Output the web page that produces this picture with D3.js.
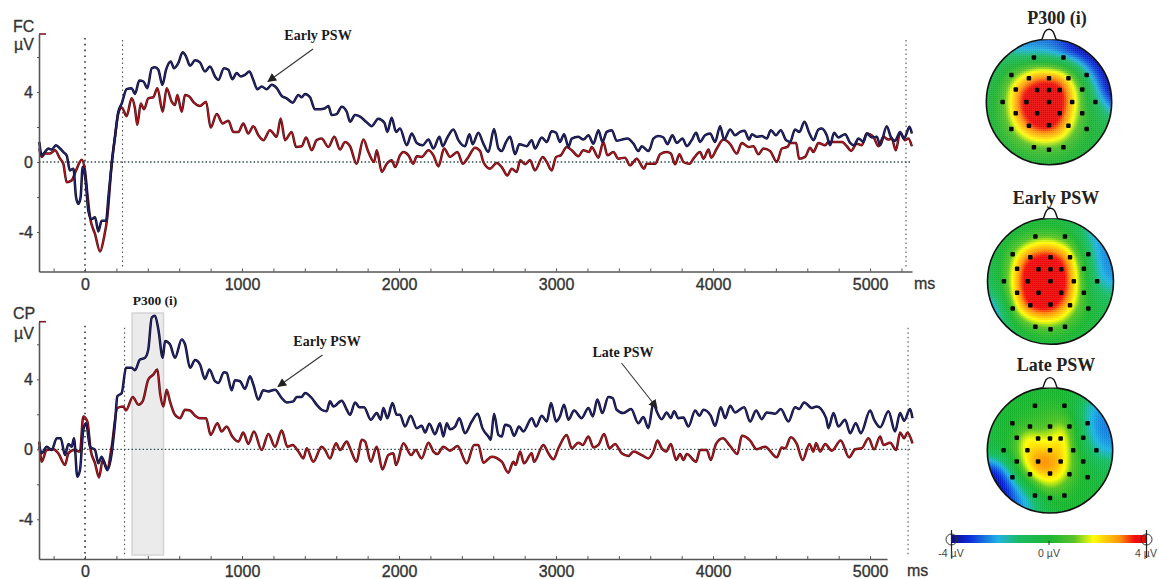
<!DOCTYPE html>
<html><head><meta charset="utf-8">
<script src="https://cdnjs.cloudflare.com/ajax/libs/d3/7.8.5/d3.min.js"></script>
<style>html,body{margin:0;padding:0;background:#fff}svg{display:block}</style>
</head><body><div id="chart"></div>
<script>
// [time in ms, amplitude in µV]
const fcNavy=[[-291,1.15],[-276,.38],[-255,.57],[-234,.77],[-212,.71],[-185,.96],[-159,.77],[-138,.57],[-117,.38],[-96,-.48],[-74,-.38],[-57,-2.01],[-42,-2.39],[-28,-2.01],[-15,-.29],[-6,-.48],[6,-1.25],[21,-2.78],[42,-3.26],[64,-3.16],[85,-3.97],[106,-3.35],[134,-3.35],[149,-2.01],[170,-.1],[191,1.44],[212,2.87],[234,3.35],[265,4.16],[297,4.22],[318,3.89],[346,4.66],[372,4.6],[397,4.22],[425,5.36],[446,5.42],[467,5.27],[493,4.41],[516,5.27],[546,5.75],[567,5.36],[594,5.65],[622,6.27],[643,6.04],[669,5.5],[701,5.81],[732,5.69],[764,5.17],[796,5.46],[828,4.89],[849,4.69],[885,5.36],[913,5.27],[938,4.73],[966,5.08],[991,4.89],[1019,4.98],[1047,5.17],[1072,4.69],[1098,4.16],[1125,4.31],[1157,4.16],[1189,4.41],[1221,4.22],[1253,3.77],[1284,3.64],[1323,3.39],[1359,3.83],[1380,3.7],[1401,3.89],[1433,3.7],[1465,3.01],[1497,3.01],[1529,3.07],[1550,3.2],[1571,2.68],[1603,2.74],[1635,3.16],[1667,2.87],[1688,2.3],[1720,2.68],[1752,2.59],[1790,2.3],[1826,2.05],[1868,2.47],[1907,2.24],[1926,1.72],[1953,2.53],[1981,1.72],[2006,1.92],[2049,.96],[2081,1.63],[2113,1.09],[2151,.96],[2187,1.28],[2219,.77],[2257,1.44],[2278,.9],[2308,1.4],[2346,1.86],[2378,1.25],[2420,.9],[2448,1.59],[2469,1.02],[2505,1.67],[2537,1.05],[2569,.57],[2605,1.88],[2633,.77],[2654,.63],[2682,1.15],[2707,1.44],[2739,.44],[2766,1.02],[2813,.9],[2845,1.25],[2866,.77],[2909,1.4],[2941,1.15],[2972,1.76],[3000,1.67],[3025,1.15],[3051,1.59],[3079,.86],[3100,1.34],[3142,1.44],[3174,1.28],[3206,1.53],[3238,1.05],[3270,1.82],[3295,1.15],[3323,1.72],[3355,1.82],[3386,1.21],[3418,1.28],[3454,1.34],[3493,1.05],[3524,.63],[3546,.9],[3588,.63],[3599,.77],[3620,1.34],[3652,1.48],[3684,1.4],[3709,1.02],[3741,1.53],[3769,1.09],[3805,1.34],[3833,.9],[3864,1.25],[3892,1.67],[3917,1.15],[3949,1.53],[3981,1.63],[4013,1.15],[4045,2.05],[4070,1.28],[4109,1.86],[4140,1.53],[4172,1.72],[4200,1.78],[4230,1.28],[4247,1.59],[4278,1.44],[4310,1.48],[4342,1.34],[4368,1.82],[4401,1.53],[4431,1.82],[4465,1.25],[4491,1.15],[4522,1.86],[4550,1.72],[4582,2.3],[4614,1.63],[4639,1.25],[4671,1.86],[4692,1.92],[4724,1.53],[4745,.96],[4771,1.67],[4798,1.4],[4841,1.59],[4873,1.09],[4898,.96],[4926,1.34],[4958,1.15],[4979,1.63],[5011,1.4],[5043,1.44],[5064,.96],[5106,2.05],[5132,1.44],[5159,1.21],[5191,1.72],[5217,1.34],[5251,2.01],[5266,1.63]];
const fcRed=[[-291,.77],[-276,.29],[-255,.48],[-223,.48],[-191,.67],[-159,.19],[-138,-.1],[-117,-1.15],[-85,-1.05],[-57,-.48],[-21,.13],[0,-.48],[15,-1.82],[32,-3.16],[64,-4.12],[96,-5.12],[121,-4.31],[142,-3.16],[170,-.1],[191,1.44],[212,2.78],[234,3.12],[265,2.62],[297,3.64],[318,3.07],[333,2.11],[355,3.35],[376,3.01],[403,3.64],[435,3.7],[461,4.22],[495,2.87],[520,4.22],[552,3.45],[573,3.26],[588,3.83],[616,2.87],[637,3.83],[664,3.74],[694,3.39],[732,3.2],[771,3.45],[800,1.97],[839,2.74],[877,2.2],[913,2.36],[945,1.72],[977,1.72],[1008,2.2],[1040,1.63],[1072,2.05],[1104,1.53],[1136,1.25],[1178,1.82],[1221,1.44],[1246,2.49],[1274,1.25],[1316,1.72],[1344,.86],[1380,.9],[1408,1.4],[1444,.67],[1475,1.25],[1507,1.34],[1550,.86],[1588,1.44],[1624,.71],[1656,1.15],[1688,.9],[1730,-.1],[1773,1.28],[1805,.57],[1841,0],[1858,.67],[1890,-.57],[1922,-.1],[1953,.1],[1975,-.29],[2006,.38],[2028,.57],[2060,.38],[2091,-.1],[2113,.33],[2144,.29],[2187,.67],[2219,.38],[2251,-.25],[2287,.77],[2325,.29],[2372,.57],[2406,-.1],[2442,.29],[2484,.82],[2516,.63],[2537,0],[2580,-.38],[2622,-.06],[2654,-.29],[2690,-.77],[2718,-.38],[2750,-.57],[2771,.1],[2803,-.13],[2834,.1],[2866,-.48],[2915,.29],[2941,0],[2972,-.48],[3000,.29],[3030,.38],[3068,.86],[3100,.67],[3142,.33],[3174,.67],[3212,.57],[3227,.86],[3270,.25],[3301,1.15],[3327,.38],[3365,.57],[3397,.19],[3439,.25],[3471,-.19],[3514,.19],[3560,-.38],[3577,-.1],[3599,-.1],[3631,-.1],[3663,.44],[3705,.57],[3731,.48],[3758,-.13],[3786,.44],[3811,0],[3850,-.1],[3875,.19],[3917,.57],[3939,.19],[3971,.71],[3988,.25],[4024,.77],[4066,1.28],[4109,1.02],[4151,.48],[4183,1.09],[4225,.86],[4257,.9],[4289,.44],[4321,.77],[4363,.63],[4406,0],[4438,.77],[4474,.86],[4491,1.09],[4529,1.09],[4548,.19],[4586,.29],[4618,.82],[4639,.57],[4671,1.09],[4714,.96],[4735,1.15],[4777,1.15],[4820,1.15],[4852,.9],[4879,.63],[4915,1.05],[4947,.96],[4979,1.63],[5021,1.44],[5053,.9],[5085,1.44],[5117,1.28],[5138,1.34],[5164,.67],[5191,1.67],[5223,1.25],[5244,1.34],[5266,.9]];
const cpNavy=[[-291,.15],[-276,-.23],[-244,.15],[-212,-.04],[-180,.63],[-155,.63],[-127,-.33],[-106,.31],[-85,.15],[-70,.63],[-49,-1.57],[-32,-1.19],[-11,1.11],[6,1.49],[32,.15],[64,-.04],[85,-.8],[106,-.42],[142,-1.19],[170,-.23],[191,1.49],[206,3.03],[234,3.22],[261,4.66],[297,4.66],[318,4.52],[350,5.13],[382,5.23],[403,5.71],[425,7.53],[446,7.63],[467,6.86],[495,5.23],[510,6.19],[541,6.0],[573,5.23],[616,6.28],[637,6.0],[669,4.66],[701,5.1],[732,4.85],[764,4.02],[792,4.56],[828,3.89],[849,3.79],[885,4.41],[902,4.37],[934,3.37],[955,3.95],[987,3.89],[1019,3.45],[1051,4.18],[1072,3.7],[1104,2.84],[1136,3.37],[1168,3.31],[1210,3.41],[1253,2.93],[1284,2.68],[1327,2.74],[1348,2.99],[1380,2.99],[1401,3.22],[1444,2.93],[1475,2.55],[1507,2.26],[1539,2.17],[1560,2.74],[1582,2.45],[1635,2.78],[1667,2.26],[1688,1.97],[1720,2.68],[1747,2.41],[1777,2.41],[1820,1.69],[1858,2.07],[1883,1.69],[1900,2.36],[1926,1.78],[1958,2.64],[1985,1.97],[2006,1.97],[2038,1.3],[2074,1.92],[2113,1.21],[2144,1.34],[2166,.96],[2193,1.46],[2229,.86],[2261,1.49],[2282,.73],[2304,1.49],[2325,1.15],[2357,1.3],[2384,1.78],[2420,.92],[2463,1.59],[2501,2.03],[2531,1.21],[2569,.73],[2584,.54],[2605,2.03],[2633,.82],[2654,.73],[2675,1.4],[2707,1.3],[2733,.77],[2764,1.3],[2792,1.02],[2845,1.78],[2873,1.3],[2909,1.92],[2941,1.59],[2968,2.64],[3000,1.59],[3025,1.88],[3051,2.55],[3079,1.69],[3115,2.22],[3163,1.78],[3206,2.36],[3234,1.88],[3263,2.84],[3295,2.07],[3333,2.99],[3361,2.93],[3386,2.26],[3429,2.07],[3478,2.3],[3524,1.49],[3556,1.84],[3588,1.21],[3620,2.64],[3641,2.17],[3673,1.72],[3705,2.11],[3731,1.78],[3752,2.17],[3779,1.78],[3811,1.82],[3843,1.3],[3886,2.22],[3913,1.92],[3939,2.26],[3985,1.92],[4013,1.34],[4049,2.41],[4077,1.78],[4109,2.49],[4140,2.11],[4198,2.41],[4236,1.59],[4274,2.22],[4310,1.72],[4342,2.11],[4395,2.03],[4431,2.3],[4480,1.59],[4522,2.41],[4548,2.3],[4580,2.68],[4629,2.36],[4661,2.45],[4720,1.78],[4735,1.21],[4767,2.07],[4798,1.3],[4841,1.69],[4873,.92],[4909,1.49],[4941,.92],[5000,2.22],[5026,1.69],[5064,1.26],[5117,2.17],[5159,1.02],[5191,2.07],[5217,1.63],[5255,2.3],[5270,1.78]];
const cpRed=[[-291,.44],[-276,-.71],[-244,-.04],[-202,0],[-170,-.23],[-127,-.9],[-106,-.23],[-70,-.04],[-32,-.13],[-11,1.88],[15,1.59],[36,-.04],[64,-.8],[89,-1.61],[113,-.61],[142,-1.09],[170,.15],[206,2.36],[244,2.45],[261,2.22],[304,2.99],[340,2.55],[367,2.74],[403,3.99],[435,4.27],[461,4.56],[478,3.22],[499,2.45],[520,3.41],[541,2.74],[573,1.97],[605,1.78],[637,2.26],[669,2.22],[701,1.92],[732,1.78],[771,1.78],[800,.82],[843,1.49],[870,1.02],[902,1.3],[938,.73],[977,.44],[1008,.96],[1040,.31],[1076,1.02],[1125,-.04],[1168,.88],[1210,.15],[1253,1.07],[1289,.15],[1323,.25],[1359,-.13],[1391,-.52],[1412,.06],[1454,-.71],[1507,.15],[1529,-.04],[1560,-.52],[1599,.34],[1624,-.04],[1667,.44],[1688,.06],[1730,-.71],[1762,.54],[1784,.44],[1820,-.71],[1858,.15],[1894,-1.15],[1932,-.33],[1964,-.23],[1981,-.9],[2028,.34],[2077,-.33],[2106,-.04],[2144,-.52],[2187,.38],[2219,-.13],[2244,-.27],[2282,.15],[2325,-.08],[2372,.19],[2431,-.8],[2478,.25],[2505,.25],[2537,-.77],[2590,-.42],[2654,-.71],[2696,-1.34],[2728,-.71],[2743,-.9],[2771,-.13],[2796,-.8],[2845,-.23],[2860,-.71],[2919,.25],[2951,-.23],[2983,-.57],[3015,.06],[3068,.82],[3100,.06],[3142,.38],[3170,.25],[3206,.73],[3238,.11],[3270,.25],[3306,.88],[3340,.06],[3376,.31],[3418,-.23],[3461,-.38],[3493,-.13],[3546,-.33],[3588,-.52],[3620,-.13],[3646,.5],[3673,.06],[3701,-.13],[3731,.31],[3765,-.61],[3790,-.27],[3811,-.61],[3833,-.27],[3892,-.71],[3917,-.04],[3960,-.04],[3985,-.61],[4019,.31],[4062,.63],[4109,.19],[4155,-.27],[4183,.77],[4236,.5],[4278,0],[4331,.15],[4406,-.46],[4438,.11],[4459,.06],[4495,.69],[4533,.31],[4571,-.61],[4614,.31],[4639,-.13],[4656,.34],[4682,-.13],[4714,.31],[4756,-.08],[4813,.5],[4866,-.46],[4905,0],[4947,.06],[4990,.63],[5026,0],[5064,.73],[5085,.25],[5128,.38],[5166,-.04],[5191,.96],[5217,.63],[5238,.96],[5270,.34]];

const xTickLabels=[0,1000,2000,3000,4000,5000];
const yTickLabels=[-4,0,4];
const p300Window=[300,500];

// scalp potential read at an 11×11 grid (rows front to back, columns left to right), µV
const p300Map=[
[-2.5,-2.5,-2.5,-2.5,-2.6,-2.7,-3,-3.6,-4,-4,-4],
[-1.5,-1.6,-1.8,-2.2,-2.2,-2.3,-2.9,-3.6,-4,-4,-4],
[-.8,-.6,-.3,.2,.6,.5,0,-1,-2.8,-3.8,-4],
[-.6,-.3,.8,2,3,3.1,2.7,1,-1.2,-3.2,-4],
[-.4,.1,1.8,3.5,3.9,4,3.8,1.9,0,-2.5,-4],
[-.3,.2,2,3.9,4,4,3.9,2.1,.2,-1.6,-3],
[-.2,.2,1.8,3.6,4,4,3.7,1.8,.2,-.6,-1.6],
[-.2,.1,1.1,2.8,3.7,3.9,3,1.3,.1,-.3,-.8],
[-.2,0,.4,1.2,1.9,2,1.6,.5,0,-.2,-.5],
[-.3,-.2,0,.2,.4,.5,.3,0,-.1,-.3,-.5],
[-.4,-.3,-.2,0,0,0,0,-.1,-.2,-.3,-.5]];
const earlyMap=[
[-.5,-.5,-.4,-.3,-.2,-.2,-.3,-.6,-1.6,-2.5,-2.5],
[-.5,-.5,-.3,0,.2,.2,0,-.6,-2,-2.5,-2.5],
[-.5,-.3,.3,1.2,1.9,2,1.4,.4,-1.5,-2.5,-2.5],
[-.5,-.2,1.2,3,3.7,3.8,3.2,1.3,-1,-2.5,-2.5],
[-.6,-.2,1.7,3.9,4,4,3.9,1.9,-.5,-2.4,-2.5],
[-.8,-.2,1.9,4,4,4,4,2,-.3,-2,-2.3],
[-1.6,-.6,1.7,3.9,4,4,3.9,1.8,-.1,-1.2,-1.4],
[-2.6,-1.6,1,3.3,4,4,3,1.3,0,-.5,-.8],
[-2.6,-2,.1,1.3,2.1,2.2,1.6,.4,-.1,-.4,-.6],
[-2.6,-2,-.8,0,.3,.5,.2,-.1,-.2,-.4,-.5],
[-2.6,-2,-1,-.5,-.2,-.1,-.2,-.3,-.4,-.5,-.5]];
const lateMap=[
[0,0,0,0,0,0,0,-.2,-.5,-.8,-1],
[0,0,0,0,0,.1,0,-.3,-1.6,-2.2,-2.2],
[-.1,-.1,0,.1,.3,.5,.5,-.4,-2,-2.5,-2.5],
[-.2,-.1,0,.5,.6,.9,1.5,.1,-2,-2.6,-2.6],
[-.3,-.2,.2,2,1.7,1.5,2.3,.3,-1.6,-2.5,-2.5],
[-.5,-.3,.4,2.1,2.4,2.3,2.4,.5,-1,-2.1,-2.2],
[-2.6,-2,-.2,1.8,3.3,3.1,2.3,.6,-.3,-1,-1.2],
[-4,-3.6,-1.5,.8,2.1,2.4,1.9,.4,-.2,-.5,-.6],
[-4,-4,-2.8,-1.2,.6,1.3,.7,.1,-.1,-.2,-.3],
[-4,-4,-3,-2.2,-1.2,0,0,0,-.1,-.1,-.1],
[-4,-4,-3,-2.2,-1.2,-.3,-.1,0,0,0,0]];
// electrode montage in head-radius units
const electrodeX=[-.24,.23,-.6,-.32,0,.31,.6,-.53,-.19,0,.17,.53,-.74,-.36,0,.37,.74,-.53,-.19,.17,.53,-.6,-.32,0,.31,.6,-.24,0,.23];
const electrodeY=[-.71,-.71,-.43,-.38,-.38,-.38,-.43,-.2,-.19,-.19,-.19,-.2,0,0,0,0,0,.18,.18,.18,.18,.43,.38,.37,.38,.43,.72,.76,.72];

const colorStops=[-4,-3.3,-2.1,-1.3,0,1.0,1.8,2.9,3.5,3.9,4];
const colorRamp=['#000080','#0020d8','#18b0e0','#10b860','#12b22a','#50c020','#ffff00','#ff8c00','#f00000','#e80000','#a00000'];

const W=1159,H=579;
const svg=d3.select('#chart').append('svg').attr('width',W).attr('height',H).attr('viewBox',`0 0 ${W} ${H}`);
svg.append('rect').attr('width',W).attr('height',H).attr('fill','#fff');
const SANS='"Liberation Sans",Arial,sans-serif', SERIF='"Liberation Serif","Times New Roman",serif';
const x=d3.scaleLinear().domain([-293,5267]).range([39,912]);

function panel(o){
  const g=svg.append('g');
  const y=d3.scaleLinear().domain([-4,4]).range([o.y0+70,o.y0-70]);
  if(o.band){
    g.append('rect').attr('x',x(o.band[0])).attr('width',x(o.band[1])-x(o.band[0]))
     .attr('y',o.bandTop).attr('height',o.axisY-4-o.bandTop).attr('fill','#ebebeb').attr('stroke','#d4d4d4').attr('stroke-width',1.5);
  }
  // reference lines
  g.append('line').attr('x1',x(0)).attr('x2',x(0)).attr('y1',o.top+4).attr('y2',o.axisY)
    .attr('stroke','#333').attr('stroke-width',1.6).attr('stroke-dasharray','1.6 4.2');
  o.vlines.forEach(v=>g.append('line').attr('x1',x(v)).attr('x2',x(v)).attr('y1',o.top+6).attr('y2',o.axisY-3)
    .attr('stroke','#555').attr('stroke-width',1.1).attr('stroke-dasharray','1.5 3'));
  g.append('line').attr('x1',39).attr('x2',912).attr('y1',y(0)).attr('y2',y(0))
    .attr('stroke','#2f4f4f').attr('stroke-width',1.3).attr('stroke-dasharray','1.5 2.2');
  // traces
  const line=d3.line().x(d=>x(d[0])).y(d=>y(d[1])).curve(d3.curveMonotoneX);
  [[o.red,'#4d0e14','#c0181f'],[o.navy,'#0b0b2a','#2a2a7a']].forEach(([d,outer,inner])=>{
    g.append('path').datum(d).attr('d',line).attr('fill','none').attr('stroke',outer).attr('stroke-width',2.5).attr('stroke-linejoin','round');
    g.append('path').datum(d).attr('d',line).attr('fill','none').attr('stroke',inner).attr('stroke-width',1.1).attr('stroke-linejoin','round');
  });
  // x axis
  const xa=x.copy().domain([-293,o.xEnd]).range([39,x(o.xEnd)]);
  const ticks=d3.range(-200,o.xEnd,200);
  const ax=g.append('g').attr('transform',`translate(0,${o.axisY})`)
    .call(d3.axisBottom(xa).tickValues(ticks).tickSize(-3).tickSizeOuter(0).tickPadding(o.xPad)
      .tickFormat(d=>xTickLabels.includes(d)?d:''));
  ax.select('.domain').attr('stroke','#555').attr('stroke-width',1.6);
  ax.selectAll('.tick line').attr('stroke','#555');
  ax.selectAll('text').attr('font-family',SANS).attr('font-size',16).attr('fill','#333').attr('stroke','#333').attr('stroke-width',.35);
  // y axis
  const yDomainTop=y.invert(o.top), yDomainBot=y.invert(o.axisY);
  const ya=y.copy().domain([yDomainBot,yDomainTop]).range([o.axisY,o.top]);
  const ay=g.append('g').attr('transform','translate(39,0)')
    .call(d3.axisLeft(ya).tickValues([-4,-2,0,2,4,6]).tickSize(2).tickSizeOuter(0).tickPadding(4)
      .tickFormat(d=>yTickLabels.includes(d)?d:''));
  ay.select('.domain').attr('stroke','#555').attr('stroke-width',1.6);
  ay.selectAll('.tick line').attr('stroke','#555');
  ay.selectAll('text').attr('font-family',SANS).attr('font-size',16).attr('fill','#333').attr('stroke','#333').attr('stroke-width',.35);
  g.append('line').attr('x1',39).attr('x2',46).attr('y1',o.top).attr('y2',o.top).attr('stroke','#7a1a22').attr('stroke-width',1.6);
  // labels
  const lab=(t,xx,yy,a='start')=>g.append('text').text(t).attr('x',xx).attr('y',yy).attr('text-anchor',a)
    .attr('font-family',SANS).attr('font-size',16).attr('fill','#333').attr('stroke','#333').attr('stroke-width',.3);
  lab(o.name,o.nameX,o.nameY); lab('µV',14,o.nameY+(o.name==='FC'?18:20));
  lab('ms',o.msX,o.msY);
}

panel({name:'FC',nameX:13,nameY:32,y0:162,top:34,axisY:271.5,xEnd:5267,xPad:7,vlines:[239,5229],navy:fcNavy,red:fcRed,msX:914,msY:289});
panel({name:'CP',nameX:13,nameY:319,y0:449.3,top:321.7,axisY:559,xEnd:5108,xPad:6.5,vlines:[252,5242],navy:cpNavy,red:cpRed,msX:907,msY:576,band:p300Window,bandTop:313});

// annotations
const defs=svg.append('defs');
defs.append('marker').attr('id','arrow').attr('viewBox','0 0 10 10').attr('refX',9).attr('refY',5)
  .attr('markerWidth',9).attr('markerHeight',9).attr('markerUnits','userSpaceOnUse').attr('orient','auto')
  .append('path').attr('d','M0,0L10,5L0,10Z').attr('fill','#222');
const note=(t,cx,cy,size=14)=>svg.append('text').text(t).attr('x',cx).attr('y',cy).attr('text-anchor','middle')
  .attr('font-family',SERIF).attr('font-weight','bold').attr('font-size',size).attr('fill','#1a1a1a');
const arrow=(a,b,c,d)=>svg.append('line').attr('x1',a).attr('y1',b).attr('x2',c).attr('y2',d).attr('stroke','#333').attr('stroke-width',1.1).attr('marker-end','url(#arrow)');
note('Early PSW',318,40); arrow(313,49,268,81.5);
note('Early PSW',327,346); arrow(322.5,355,278,386.5);
note('Late PSW',623,357); arrow(621.5,363,657,408);
note('P300 (i)',155,305,13.5);

// topographic maps
const color=d3.scaleLinear().domain(colorStops).range(colorRamp).clamp(true);
function topo(o){
  const id='clip'+o.id, g=svg.append('g').attr('transform',`translate(${o.cx},${o.cy})`);
  defs.append('clipPath').attr('id',id).append('circle').attr('r',o.r);
  const cells=[], step=2;
  const n=o.map.length;
  const colSpline=d3.range(n).map(j=>d3.interpolateBasis(o.map.map(r=>r[j])));
  for(let py=-o.r;py<o.r;py+=step){
    const ty=(py+step/2+o.r)/(2*o.r);
    const row=colSpline.map(f=>f(ty));
    const rs=d3.interpolateBasis(row);
    for(let px=-o.r;px<o.r;px+=step){
      if((px+1)*(px+1)+(py+1)*(py+1)>(o.r+2)*(o.r+2))continue;
      cells.push({px,py,v:Math.min(3.9,rs((px+step/2+o.r)/(2*o.r)))});
    }
  }
  const pos=d3.scaleLinear().domain([-1,1]).range([-o.r,o.r]);
  g.append('g').attr('clip-path',`url(#${id})`).selectAll('rect').data(cells).join('rect')
    .attr('x',d=>d.px).attr('y',d=>d.py).attr('width',step+.3).attr('height',step+.3).attr('fill',d=>color(d.v));
  g.append('circle').attr('r',o.r).attr('fill','none').attr('stroke','#111').attr('stroke-width',1.6);
  g.append('path').attr('d',`M-7,${-o.r}C-5,${-o.r-6} -4,${-o.r-10} 0,${-o.r-10}C4,${-o.r-10} 5,${-o.r-6} 7,${-o.r}`)
    .attr('fill','#fff').attr('stroke','#111').attr('stroke-width',1.4);
  g.selectAll('.el').data(electrodeX.map((ex,i)=>[ex,electrodeY[i]])).join('rect').attr('class','el')
    .attr('x',d=>pos(d[0])-2.25).attr('y',d=>pos(d[1])-2.25).attr('width',4.5).attr('height',4.5).attr('rx',1).attr('fill','#0a0a0a');
  svg.append('text').text(o.title).attr('x',o.tx).attr('y',o.ty).attr('text-anchor','middle')
    .attr('font-family',SERIF).attr('font-weight','bold').attr('font-size',18).attr('fill','#222');
}
topo({id:1,cx:1049,cy:102,r:62.7,map:p300Map,title:'P300 (i)',tx:1057,ty:24});
topo({id:2,cx:1050.5,cy:281.3,r:63,map:earlyMap,title:'Early PSW',tx:1056,ty:204});
topo({id:3,cx:1050,cy:450.3,r:62.7,map:lateMap,title:'Late PSW',tx:1056,ty:371});

// colour bar
const barX=d3.scaleLinear().domain([-4,4]).range([951.5,1146.5]);
const barVals=d3.range(-4,4,8/195);
svg.append('g').selectAll('rect').data(barVals).join('rect')
  .attr('x',d=>barX(d)).attr('y',535).attr('width',1.4).attr('height',8).attr('fill',d=>color(d));
svg.append('line').attr('x1',barX(0)).attr('x2',barX(0)).attr('y1',541).attr('y2',545).attr('stroke','#333');
[-4,4].forEach(v=>{
  svg.append('circle').attr('cx',barX(v)).attr('cy',539.5).attr('r',5.5).attr('fill','none').attr('stroke','#333').attr('stroke-width',1);
  svg.append('line').attr('x1',barX(v)).attr('x2',barX(v)).attr('y1',530).attr('y2',558).attr('stroke','#222').attr('stroke-width',1.2);
});
[[951,'-4 µV'],[1049,'0 µV'],[1146,'4 µV']].forEach(([xx,t])=>{
  svg.append('text').text(t).attr('x',xx).attr('y',557).attr('text-anchor','middle')
    .attr('font-family',SANS).attr('font-size',10.5).attr('fill','#444');
});
</script></body></html>
